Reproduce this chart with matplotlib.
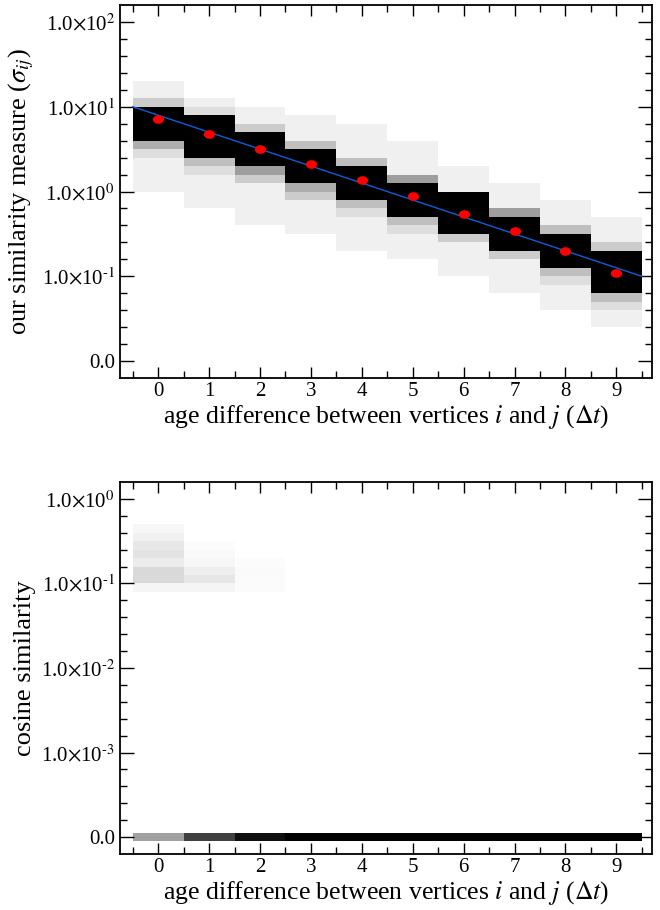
import numpy as np
import matplotlib
matplotlib.use("Agg")
import matplotlib.pyplot as plt
from matplotlib.markers import MarkerStyle
from matplotlib.transforms import Affine2D

plt.rcParams["font.family"] = ["Liberation Serif", "DejaVu Serif"]
plt.rcParams["mathtext.fontset"] = "stix"

# age difference (Delta t) columns
age_diff = list(range(10))

# our similarity measure: per column, band edges in log10(sigma) and grey level of each band
sigma_edges = [
    [0.0, 0.4, 0.5, 0.6, 1.0, 1.1, 1.3],
    [-0.2, 0.2, 0.3, 0.4, 0.9, 1.0, 1.1],
    [-0.4, 0.1, 0.2, 0.3, 0.7, 0.8, 1.0],
    [-0.5, -0.1, 0.0, 0.1, 0.5, 0.6, 0.9],
    [-0.7, -0.3, -0.2, -0.1, 0.3, 0.4, 0.8],
    [-0.8, -0.5, -0.4, -0.3, 0.1, 0.2, 0.6],
    [-1.0, -0.6, -0.5, 0.0, 0.3],
    [-1.2, -0.8, -0.7, -0.3, -0.2, 0.1],
    [-1.4, -1.1, -1.0, -0.9, -0.5, -0.4, -0.1],
    [-1.6, -1.4, -1.3, -1.2, -0.7, -0.6, -0.3],
]
sigma_grey = [
    [0.94, 0.87, 0.68, 0.0, 0.80, 0.94],
    [0.94, 0.87, 0.75, 0.0, 0.87, 0.94],
    [0.94, 0.80, 0.62, 0.0, 0.80, 0.94],
    [0.94, 0.80, 0.68, 0.0, 0.75, 0.94],
    [0.94, 0.87, 0.75, 0.0, 0.75, 0.94],
    [0.94, 0.87, 0.75, 0.0, 0.62, 0.94],
    [0.94, 0.80, 0.0, 0.94],
    [0.94, 0.80, 0.0, 0.62, 0.94],
    [0.94, 0.87, 0.75, 0.0, 0.75, 0.94],
    [0.94, 0.87, 0.75, 0.0, 0.80, 0.94],
]
sigma_mean = [7.2, 4.8, 3.2, 2.1, 1.36, 0.88, 0.55, 0.34, 0.20, 0.11]
fit_x = [-0.5, 9.5]
fit_y = [10.0, 0.1]

# cosine similarity: band edges in log10, grey levels
cos_edges = [
    [-1.1, -1.0, -0.8, -0.7, -0.6, -0.5, -0.4, -0.3],
    [-1.1, -1.0, -0.9, -0.8, -0.7, -0.6, -0.5],
    [-1.1, -1.0, -0.8, -0.7],
]
cos_grey = [
    [0.96, 0.85, 0.925, 0.89, 0.91, 0.945, 0.97],
    [0.96, 0.90, 0.935, 0.97, 0.975, 0.99],
    [0.985, 0.98, 0.99],
]
# grey level of the bin holding cosine similarity == 0
cos_zero_grey = [0.63, 0.25, 0.06, 0.0, 0.0, 0.0, 0.0, 0.0, 0.0, 0.0]

xlabel = r"age difference between vertices $i$ and $j$ ($\Delta t$)"


def sci_label(k):
    if k < 0:
        return r"1.0$\times$10$^{\text{-}%d}$" % -k
    return r"1.0$\times$10$^{%d}$" % k


def style_axis(ax, decades, zero_pos):
    ax.set_xlim(-0.75, 9.7)
    ax.set_ylim(zero_pos - 0.2, max(decades) + 0.2)
    ax.set_xticks(age_diff)
    ax.set_xticks(np.arange(-0.5, 10, 1.0), minor=True)
    ticks = list(decades) + [zero_pos]
    ax.set_yticks(ticks)
    ax.set_yticklabels([sci_label(k) for k in decades] + ["0.0"])
    ax.set_yticks(np.arange(zero_pos, max(decades) + 0.01, 0.2), minor=True)
    ax.tick_params(which="both", direction="in", top=True, right=True, labelsize=15)
    ax.tick_params(which="major", length=10, width=1.0)
    ax.tick_params(which="minor", length=5, width=1.0)
    ax.tick_params(axis="x", which="major", length=8, pad=3)
    for s in ax.spines.values():
        s.set_linewidth(1.3)
    ax.set_xlabel(xlabel, fontsize=18.5, labelpad=1)


fig = plt.figure(figsize=(6.6, 9.1), dpi=100)
ax1 = fig.add_axes([0.1818, 0.5846, 0.806, 0.4099])
ax2 = fig.add_axes([0.1818, 0.0615, 0.806, 0.4088])

for x, edges, greys in zip(age_diff, sigma_edges, sigma_grey):
    lo = np.array(edges[:-1])
    hi = np.array(edges[1:])
    ax1.bar([x] * len(lo), hi - lo, bottom=lo, width=1.0,
            color=[str(g) for g in greys], linewidth=0)
ax1.plot(fit_x, np.log10(fit_y), color="#0a60d8", lw=1.0)
dot = MarkerStyle("o", transform=Affine2D().scale(1.35, 1.0))
ax1.plot(age_diff, np.log10(sigma_mean), ls="none", marker=dot, ms=5.2,
         color="#ff0000", mec="#ff0000")
style_axis(ax1, [2, 1, 0, -1], -2)
ax1.set_ylabel(r"our similarity measure ($\sigma_{ij}$)", fontsize=19)
ax1.yaxis.set_label_coords(-0.158, 0.5)

for x, edges, greys in zip(age_diff, cos_edges, cos_grey):
    lo = np.array(edges[:-1])
    hi = np.array(edges[1:])
    ax2.bar([x] * len(lo), hi - lo, bottom=lo, width=1.0,
            color=[str(g) for g in greys], linewidth=0)
ax2.bar(age_diff, 0.1, bottom=-4.05, width=1.0,
        color=[str(g) for g in cos_zero_grey], linewidth=0)
style_axis(ax2, [0, -1, -2, -3], -4)
ax2.set_ylabel("cosine similarity", fontsize=19)
ax2.yaxis.set_label_coords(-0.158, 0.5)

fig.savefig("out.png", dpi=100)
